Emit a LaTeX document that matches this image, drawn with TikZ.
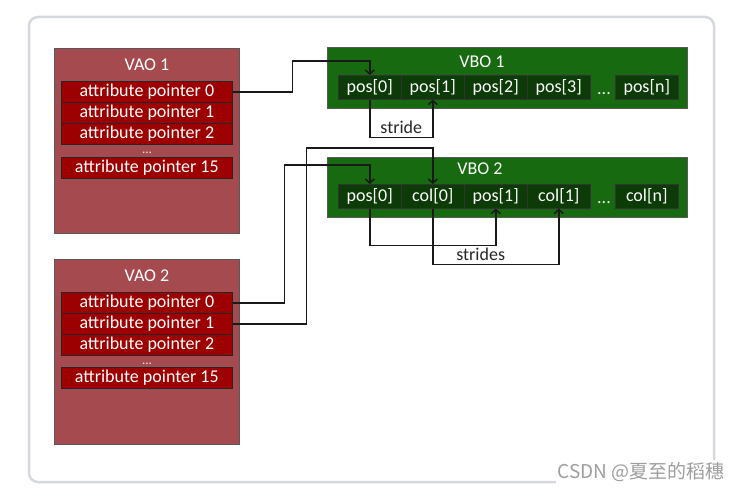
\documentclass[tikz,border=0pt]{standalone}
\usepackage{fontspec}
\setmainfont{Carlito}
\newfontfamily\cjkfont{Noto Sans CJK SC}
\usetikzlibrary{positioning,arrows.meta}
\definecolor{vaored}{HTML}{A54B50}
\definecolor{ptrred}{HTML}{9C0000}
\definecolor{vbogreen}{HTML}{176A0F}
\definecolor{cellgreen}{HTML}{0C3B08}
\definecolor{framegray}{HTML}{D5D8DF}
\begin{document}
\begin{tikzpicture}[x=1pt,y=-1pt,
		font=\fontsize{18}{20}\selectfont,
		vao/.style={draw=black!65,fill=vaored,line width=0.8pt,anchor=north west,inner sep=0pt,minimum width=185pt,minimum height=185pt},
		vbo/.style={draw=black!65,fill=vbogreen,line width=0.8pt,anchor=north west,inner sep=0pt,minimum width=360pt,minimum height=61pt},
		ptr/.style={draw=black!85,fill=ptrred,text=white,line width=0.7pt,anchor=north west,inner sep=0pt,minimum width=171pt,minimum height=21pt},
		cell/.style={draw=black!80,fill=cellgreen,text=white,line width=0.6pt,anchor=north west,inner sep=0pt,minimum width=63pt,minimum height=24pt},
		title/.style={text=white},
		dots/.style={anchor=base,inner sep=0pt,text=white!92!black,font=\fontsize{13}{13}\selectfont},
		link/.style={draw=black!90,line width=1.5pt,-{Straight Barb[length=4pt,width=9pt]}},
	]
		\useasboundingbox (0,0) rectangle (740,492);
		\draw[framegray,line width=2.5pt,rounded corners=9pt] (29,17) rectangle (714,482);
		% VAO 1
		\node[vao] (vao1) at (54,48) {};
		\node[title] (vao1t) at (147,65) {VAO 1};
		\foreach \i/\y in {0/81,1/102,2/123,15/157}
			\node[ptr] (vao1p\i) at (61,\y) {attribute pointer \i};
		\node[dots] (vao1d) at (147,154) {...};
		% VAO 2
		\node[vao] (vao2) at (54,259) {};
		\node[title] (vao2t) at (147,276) {VAO 2};
		\foreach \i/\y in {0/292,1/313,2/334,15/367}
			\node[ptr] (vao2p\i) at (61,\y) {attribute pointer \i};
		\node[dots] (vao2d) at (147,364) {...};
		% VBO 1
		\node[vbo] (vbo1) at (327,47) {};
		\node[title] (vbo1t) at (482,62) {VBO 1};
		\foreach \n/\x/\t in {p10/338/pos[0],p11/401/pos[1],p12/464/pos[2],p13/527/pos[3],p1n/615/pos[n]}
			\node[cell] (\n) at (\x,75) {\t};
		\node[dots,font=\fontsize{18}{18}\selectfont] (vbo1d) at (604,95) {...};
		% VBO 2
		\node[vbo,minimum height=60pt] (vbo2) at (327,157) {};
		\node[title] (vbo2t) at (480,169) {VBO 2};
		\foreach \n/\x/\t in {p20/338/pos[0],c20/401/col[0],p21/464/pos[1],c21/527/col[1],c2n/615/col[n]}
			\node[cell] (\n) at (\x,184) {\t};
		\node[dots,font=\fontsize{18}{18}\selectfont] (vbo2d) at (604,204) {...};
		% pointers
		\draw[link] (vao1p0.east) -- ++(60,0) |- ([yshift=14pt]p10.north) -- (p10.north);
		\draw[link] (vao2p0.east) -- ++(52,0) |- ([yshift=19pt]p20.north) -- (p20.north);
		\draw[link] (vao2p1.east) -- ++(74,0) |- ([yshift=36pt]c20.north) -- (c20.north);
		% strides
		\draw[link] (p10.south) -- ++(0,38) -| node[pos=0.25,above,text=black!85]{stride} (p11.south);
		\draw[link] (p20.south) -- ++(0,37) -| (p21.south);
		\draw[link] (c20.south) -- ++(0,56) -| node[pos=0.19,above,text=black!85]{strides} (c21.south);
		\node[fill=white,inner sep=2pt,anchor=east,text=black!38,font=\cjkfont\fontsize{19}{22}\selectfont] (mark) at (727,472) {CSDN @夏至的稻穗};
\end{tikzpicture}
\end{document}
